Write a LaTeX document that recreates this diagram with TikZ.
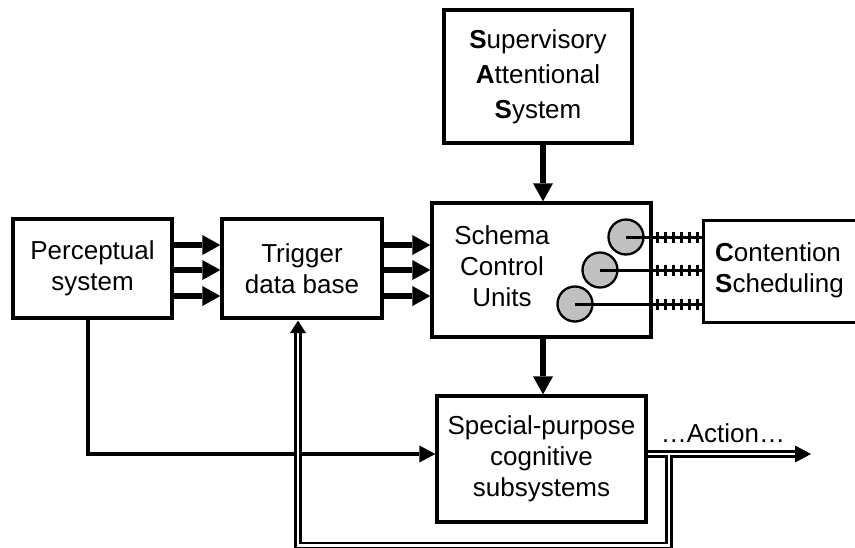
\documentclass[tikz,border=0pt]{standalone}
\usepackage{fontspec}
\setmainfont{Liberation Sans}
\usetikzlibrary{arrows.meta,calc}
\definecolor{unitgray}{RGB}{192,192,192}
\begin{document}
\begin{tikzpicture}[x=1pt,y=-1pt,
  box/.style={draw, line width=3.3pt, inner sep=0pt, align=center, font=\fontsize{26}{31}\selectfont},
  lbl/.style={inner sep=0pt, align=center, font=\fontsize{26}{31}\selectfont},
  fat/.style={line width=6.5pt, -{Triangle[length=18pt,width=20pt,line width=0pt]}},
  thinarr/.style={line width=3.8pt, -{Triangle[length=16pt,width=17pt,line width=0pt]}},
  dbl/.style={draw=black, double=white, line width=2.6pt, double distance=2.8pt},
  unit/.style={circle, draw, fill=unitgray, line width=2.3pt, minimum size=35pt, inner sep=0pt},
  link/.style={line width=3pt},
  tickmark/.style={line width=3pt}
]
\useasboundingbox (0,0) rectangle (855,547);
\fill[white] (0,0) rectangle (855,547);

% boxes
\node[box, font=\fontsize{26}{35}\selectfont, minimum width=188pt, minimum height=133pt] (sas) at (538,76.5)
  {\textbf{S}upervisory\\\textbf{A}ttentional\\\textbf{S}ystem};
\node[box, minimum width=159pt, minimum height=99pt] (per) at (92.5,268.5) {Perceptual\\system};
\node[box, minimum width=160pt, minimum height=99pt] (trig) at (302,268.5) {Trigger\\data base};
\node[box, minimum width=219pt, minimum height=134pt] (scu) at (541.5,270) {};
\node[lbl] (scut) at (502,266) {Schema\\Control\\Units};
\node[box, minimum width=209pt, minimum height=126pt] (spc) at (541.5,459) {Special-purpose\\cognitive\\subsystems};
\node[box, minimum width=170pt, minimum height=102pt, anchor=north west] (csd) at (702,219) {};
\node[lbl, align=left, anchor=west] (csdt) at (715,270) {\textbf{C}ontention\\\textbf{S}cheduling};

% thick arrows
\foreach \yy in {245,270,296}{
  \draw[fat] (per.east |- 0,\yy) -- (trig.west |- 0,\yy);
  \draw[fat] (trig.east |- 0,\yy) -- (scu.west |- 0,\yy);
}
\draw[fat] (sas.south -| 543,0) -- (scu.north -| 543,0);
\draw[fat] (scu.south -| 543,0) -- (spc.north -| 543,0);

% schema units
\node[unit] (u1) at (626,237) {};
\node[unit] (u2) at (600,270) {};
\node[unit] (u3) at (575,304) {};
\foreach \u in {u1,u2,u3}{
  \draw[link] (\u.center) -- (csd.west |- \u.center);
  \foreach \xx in {657,665,673,681,689,697}{
    \draw[tickmark] ($(\u.center -| \xx,0)+(0,-5.5)$) -- ($(\u.center -| \xx,0)+(0,5.5)$);
  }
}

% perceptual line
\coordinate (pb) at (88,454);
\draw[thinarr] (per.south -| pb) -- (pb) -- (spc.west |- pb);

% action / feedback double lines
\coordinate (aj) at (669,454);
\coordinate (ae) at (795,454);
\coordinate (br) at (669,545.5);
\coordinate (bl) at (298,545.5);
\coordinate (tb) at (298,333);
\draw[dbl] (spc.east |- aj) -- (ae);
\fill ($(ae)+(0,-8.5)$) -- ($(ae)+(16,0)$) -- ($(ae)+(0,8.5)$) -- cycle;
\draw[dbl] ($(aj)+(0,1.4)$) -- (br) -- (bl) -- (tb);
\fill[white] ($(aj)+(-1.4,-1.4)$) rectangle ($(aj)+(1.4,4.2)$);
\fill ($(trig.south -| tb)+(0,1)$) -- ($(tb)+(-8,0)$) -- ($(tb)+(8,0)$) -- cycle;

\node[lbl, anchor=base] (act) at (723,442) {…Action…};
\end{tikzpicture}
\end{document}
